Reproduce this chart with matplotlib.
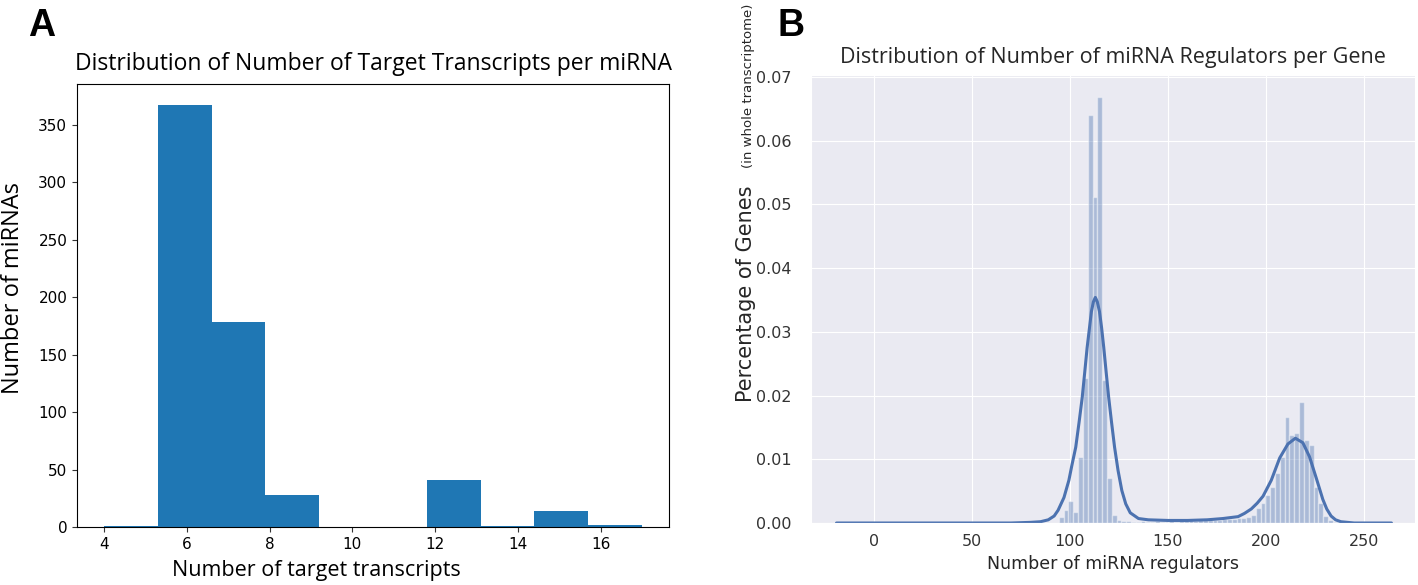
import matplotlib
matplotlib.use("Agg")
import matplotlib.pyplot as plt
import numpy as np
import seaborn as sns

# panel A: histogram of target transcripts per miRNA (10 bins, 4..17)
a_edges = [4.0, 5.3, 6.6, 7.9, 9.2, 10.5, 11.8, 13.1, 14.4, 15.7, 17.0]
a_counts = [1, 367, 178, 28, 0, 0, 41, 1, 14, 2]
a_xticks = [4, 6, 8, 10, 12, 14, 16]
a_yticks = [0, 50, 100, 150, 200, 250, 300, 350]

# panel B: histogram (density) of miRNA regulators per gene
b_bin_start = 94.4
b_bin_width = 2.45
b_heights = [0.0010, 0.0020, 0.0035, 0.0018, 0.0104, 0.0228, 0.0640, 0.0512, 0.0668, 0.0224,
             0.0071, 0.0013, 0.0004, 0.0003, 0.0003, 0.0002, 0.0002, 0.0003, 0.0002, 0.0002,
             0.0003, 0.0002, 0.0002, 0.0003, 0.0002, 0.0003, 0.0003, 0.0004, 0.0003, 0.0004,
             0.0004, 0.0005, 0.0004, 0.0005, 0.0006, 0.0006, 0.0007, 0.0008, 0.0008, 0.0010,
             0.0013, 0.0023, 0.0031, 0.0044, 0.0057, 0.0078, 0.0104, 0.0167, 0.0138, 0.0142,
             0.0190, 0.0130, 0.0122, 0.0057, 0.0031, 0.0011, 0.0004, 0.0002]
# kde curve
kde_x = [-19, 0, 40, 70, 80, 85, 89, 92, 94, 97, 99.5, 101, 103, 104.7, 106.3, 107.6, 108.8,
         110, 111, 112, 113, 114, 115.1, 116.2, 117.3, 118.5, 119.8, 121.3, 122.8, 124.6,
         126.5, 128.5, 130.8, 135, 140, 150, 160, 170, 178, 185.8, 189, 192.5, 195.5, 198.5,
         202.7, 207, 211.2, 215, 218.8, 222.2, 225.6, 229, 231, 233.2, 235.5, 238.2, 245, 264]
kde_y = [0, 0, 0, 0, 0.0001, 0.0002, 0.0005, 0.0011, 0.0020, 0.0040, 0.0067, 0.0090, 0.0119,
         0.0158, 0.0197, 0.0237, 0.0275, 0.0306, 0.0332, 0.0347, 0.0354, 0.0347, 0.0332,
         0.0306, 0.0275, 0.0237, 0.0197, 0.0157, 0.0119, 0.0082, 0.0051, 0.0030, 0.0016,
         0.0007, 0.0005, 0.0004, 0.0004, 0.0005, 0.0007, 0.0010, 0.0015, 0.0022, 0.0031,
         0.0042, 0.0067, 0.0102, 0.0124, 0.0133, 0.0126, 0.0104, 0.0071, 0.0037, 0.0022,
         0.0011, 0.0005, 0.0002, 0.0, 0.0]
b_xticks = [0, 50, 100, 150, 200, 250]
b_yticks = [0.00, 0.01, 0.02, 0.03, 0.04, 0.05, 0.06, 0.07]

W, H = 1418, 585
fig = plt.figure(figsize=(W / 100, H / 100), dpi=100)
fig.patch.set_facecolor("white")

def box(l, t, r, b):
    return [l / W, 1 - b / H, (r - l) / W, (b - t) / H]

title_font = ["Open Sans", "DejaVu Sans"]

# ---- panel A
ax1 = fig.add_axes(box(77, 84, 669, 527))
ax1.hist(a_edges[:-1], bins=a_edges, weights=a_counts, color="#1f77b4")
ax1.set_xticks(a_xticks)
ax1.set_yticks(a_yticks)
ax1.tick_params(labelsize=11, color="#333333")
ax1.set_title("Distribution of Number of Target Transcripts per miRNA",
              fontsize=16.5, family=title_font, pad=10)
ax1.set_xlabel("Number of target transcripts", fontsize=15.5, family=title_font)
ax1.set_ylabel("Number of miRNAs", fontsize=17, family=title_font)
ax1.xaxis.set_label_coords(0.405, -0.075)
ax1.yaxis.set_label_coords(-0.088, 0.54)

# ---- panel B
with sns.axes_style("darkgrid"):
    ax2 = fig.add_axes(box(811, 75, 1415, 523))
    b_edges = b_bin_start + b_bin_width * np.arange(len(b_heights) + 1)
    ax2.hist(b_edges[:-1], bins=b_edges, weights=b_heights, color="#4C72B0", alpha=0.4)
    ax2.plot(kde_x, kde_y, color="#4C72B0", lw=2.2)
    ax2.set_xlim(-32, 276)
    ax2.set_ylim(0, 0.0703)
    ax2.set_xticks(b_xticks)
    ax2.set_yticks(b_yticks)
    ax2.set_yticklabels([f"{v:.2f}" for v in b_yticks])
    ax2.tick_params(labelsize=11.5, colors="#333333", length=0)
    ax2.tick_params(axis="y", pad=14)
    ax2.tick_params(axis="x", pad=8)
    ax2.set_title("Distribution of Number of miRNA Regulators per Gene",
                  fontsize=15.5, family=title_font, color="#262626", pad=9)
    ax2.set_xlabel("Number of miRNA regulators", fontsize=12.5, color="#262626", labelpad=4)

fig.text(752 / W, 1 - 402 / H, "Percentage of Genes", rotation=90, rotation_mode="anchor",
         ha="left", va="baseline", fontsize=15, color="#262626")
fig.text(752 / W, 1 - 168 / H, "(in whole transcriptome)", rotation=90, rotation_mode="anchor",
         ha="left", va="baseline", fontsize=9.5, color="#262626")

fig.text(28 / W, 1 - 36 / H, "A", fontsize=27, fontweight="bold", family="Liberation Sans")
fig.text(778 / W, 1 - 36 / H, "B", fontsize=27, fontweight="bold", family="Liberation Sans")

fig.savefig("out.png", dpi=100)
